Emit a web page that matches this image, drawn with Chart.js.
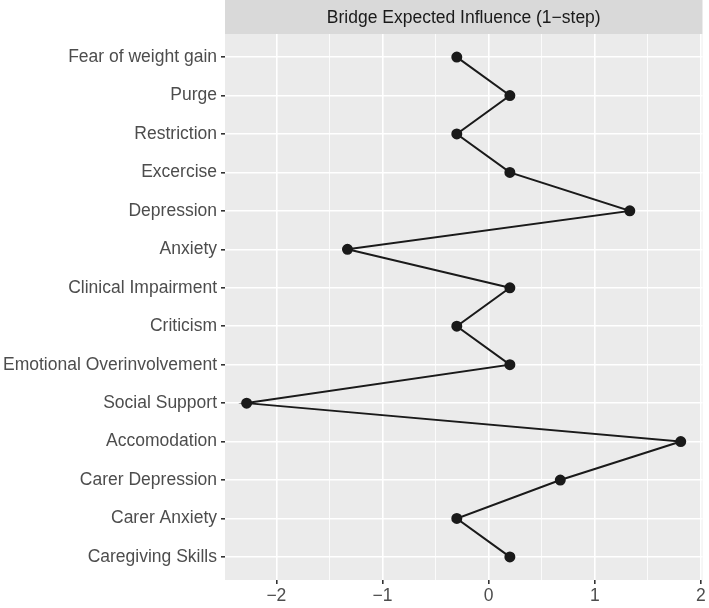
<!DOCTYPE html>
<html>
<head>
<meta charset="utf-8">
<script src="https://cdn.jsdelivr.net/npm/chart.js@4"></script>
<style>
  html, body { margin: 0; padding: 0; background: #fff; }
  #wrap { width: 709px; height: 608px; }
</style>
</head>
<body>
<div id="wrap"><canvas id="chart" width="709" height="608"></canvas></div>
<script>
const nodes = ['Fear of weight gain', 'Purge', 'Restriction', 'Excercise', 'Depression', 'Anxiety',
  'Clinical Impairment', 'Criticism', 'Emotional Overinvolvement', 'Social Support', 'Accomodation',
  'Carer Depression', 'Carer Anxiety', 'Caregiving Skills'];
const bridgeEI = [-0.30, 0.20, -0.30, 0.20, 1.33, -1.33, 0.20, -0.30, 0.20, -2.28, 1.81, 0.675, -0.30, 0.20];
const xTicks = [-2, -1.5, -1, -0.5, 0, 0.5, 1, 1.5, 2];
const stripTitle = 'Bridge Expected Influence (1\u2212step)';

const FONT = '"Liberation Sans", Arial, Helvetica, sans-serif';
const isMajor = (v) => Number.isInteger(v);

const panelPlugin = {
  id: 'panel',
  beforeDraw: (chart) => {
    const { ctx, chartArea: a } = chart;
    ctx.save();
    ctx.fillStyle = '#EBEBEB';
    ctx.fillRect(a.left, a.top, a.right - a.left, a.bottom - a.top);
    ctx.fillStyle = '#D9D9D9';
    ctx.fillRect(a.left, 0, a.right - a.left, a.top);
    ctx.fillStyle = '#1A1A1A';
    ctx.font = `17.5px ${FONT}`;
    ctx.textAlign = 'center';
    ctx.textBaseline = 'middle';
    ctx.fillText(stripTitle, (a.left + a.right) / 2, a.top / 2 + 1);
    ctx.restore();
  }
};

new Chart(document.getElementById('chart'), {
  type: 'line',
  data: {
    datasets: [{
      data: bridgeEI.map((v, i) => ({ x: v, y: i })),
      borderColor: '#1A1A1A',
      backgroundColor: '#1A1A1A',
      borderWidth: 2,
      pointRadius: 4.5,
      pointHoverRadius: 4.5,
      tension: 0
    }]
  },
  options: {
    responsive: false,
    animation: false,
    layout: { padding: { top: 34, right: 4, left: 0, bottom: 0 } },
    plugins: { legend: { display: false }, tooltip: { enabled: false } },
    scales: {
      x: {
        type: 'linear',
        min: -2.484,
        max: 2.015,
        afterBuildTicks: (s) => { s.ticks = xTicks.map((v) => ({ value: v })); },
        afterFit: (s) => { s.height = 28; },
        border: { display: false },
        grid: {
          color: '#FFFFFF',
          lineWidth: (c) => (isMajor(c.tick.value) ? 1.6 : 0.8),
          tickColor: (c) => (isMajor(c.tick.value) ? '#333333' : 'rgba(0,0,0,0)'),
          tickLength: 4,
          drawOnChartArea: true
        },
        ticks: {
          autoSkip: false,
          maxRotation: 0,
          padding: 2,
          color: '#4D4D4D',
          font: { family: FONT, size: 17.5 },
          callback: (v) => (isMajor(v) ? String(v).replace('-', '\u2212') : '')
        }
      },
      y: {
        type: 'linear',
        reverse: true,
        min: -0.6,
        max: nodes.length - 1 + 0.6,
        afterBuildTicks: (s) => { s.ticks = nodes.map((_, i) => ({ value: i })); },
        afterFit: (s) => { s.width = 225; },
        border: { display: false },
        grid: {
          color: '#FFFFFF',
          lineWidth: 1.6,
          tickColor: '#333333',
          tickLength: 4
        },
        ticks: {
          autoSkip: false,
          padding: 4,
          color: '#4D4D4D',
          font: { family: FONT, size: 17.5 },
          callback: (v) => nodes[v]
        }
      }
    }
  },
  plugins: [panelPlugin]
});
</script>
</body>
</html>
